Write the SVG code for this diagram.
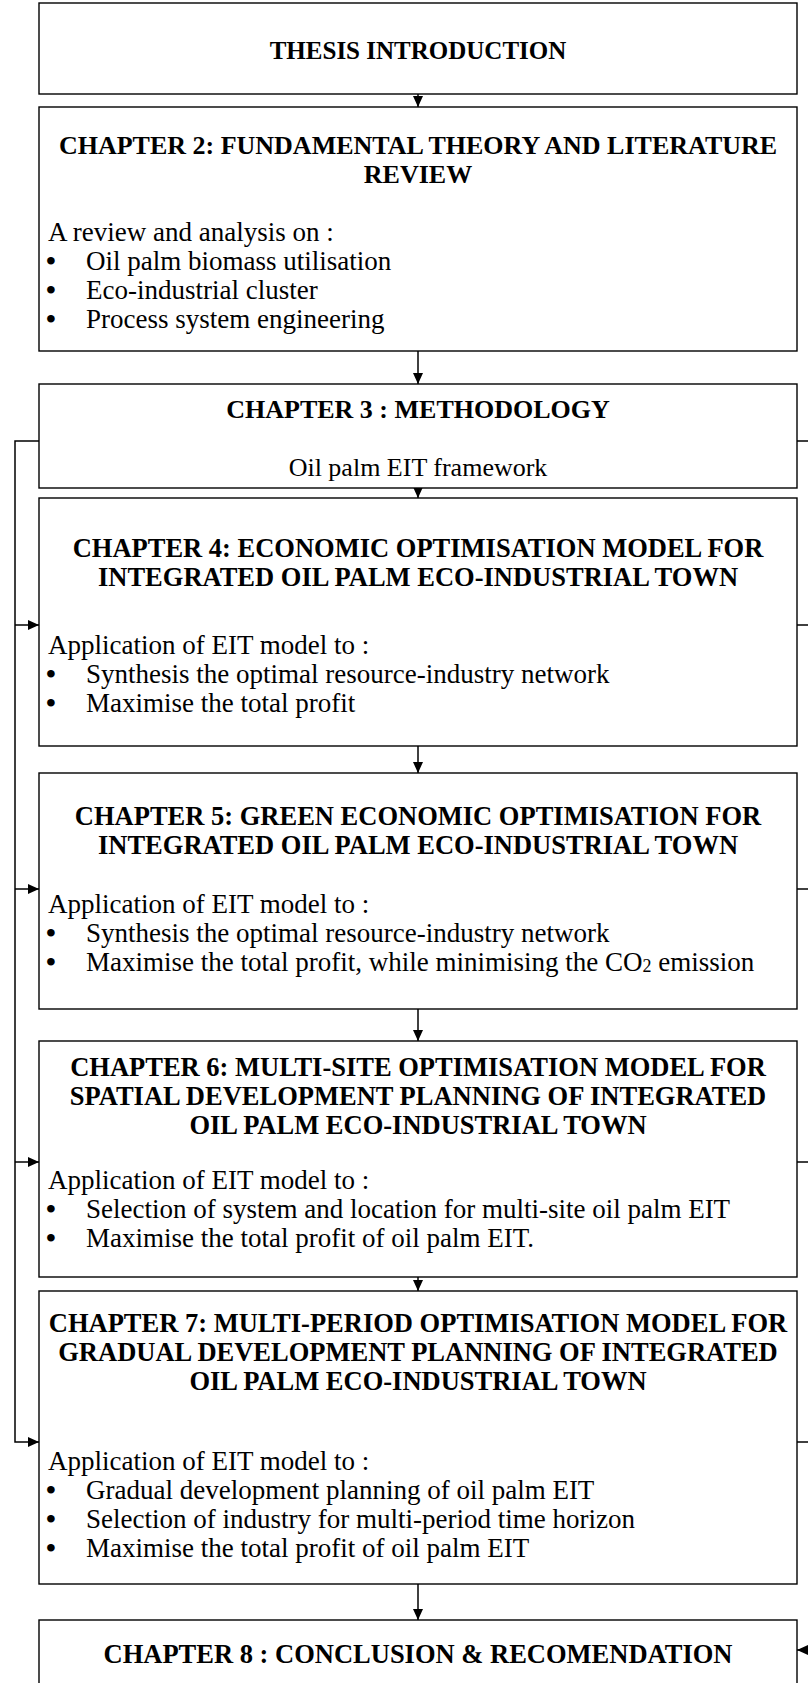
<svg xmlns="http://www.w3.org/2000/svg" width="808" height="1683" viewBox="0 0 808 1683">
<style>
.box{fill:#ffffff;stroke:#000000;stroke-width:1.4}
.t{font-family:"Liberation Serif","Times New Roman",serif;font-size:26.5px;font-weight:bold;fill:#000;text-anchor:middle}
.b{font-family:"Liberation Serif","Times New Roman",serif;font-size:27px;fill:#000}
.d{font-family:"Liberation Serif","Times New Roman",serif;font-size:28px;font-weight:bold;fill:#000}
.c{font-family:"Liberation Serif","Times New Roman",serif;font-size:26px;fill:#000;text-anchor:middle}
.ln{fill:none;stroke:#000;stroke-width:1.5}
</style>
<defs>
<marker id="ah" markerWidth="11" markerHeight="10" refX="11" refY="5" orient="auto" markerUnits="userSpaceOnUse">
<path d="M0,0 L11,5 L0,10 z" fill="#000"/>
</marker>
</defs>
<rect width="808" height="1683" fill="#ffffff"/>
<g id="connectors">
<path class="ln" d="M418,94 V107" marker-end="url(#ah)"/>
<path class="ln" d="M418,351 V384" marker-end="url(#ah)"/>
<path class="ln" d="M418,488 V498" marker-end="url(#ah)"/>
<path class="ln" d="M418,746 V773" marker-end="url(#ah)"/>
<path class="ln" d="M418,1009 V1041" marker-end="url(#ah)"/>
<path class="ln" d="M418,1277 V1291" marker-end="url(#ah)"/>
<path class="ln" d="M418,1584 V1620" marker-end="url(#ah)"/>
<path class="ln" d="M39,441 H15 V1442 H39" marker-end="url(#ah)"/>
<path class="ln" d="M15,625 H39" marker-end="url(#ah)"/>
<path class="ln" d="M15,889 H39" marker-end="url(#ah)"/>
<path class="ln" d="M15,1162 H39" marker-end="url(#ah)"/>
<path class="ln" d="M797,441 H812 V1650 H797" marker-end="url(#ah)"/>
<path class="ln" d="M797,625 H812"/>
<path class="ln" d="M797,889 H812"/>
<path class="ln" d="M797,1162 H812"/>
<path class="ln" d="M797,1442 H812"/>
</g>
<g id="n1">
<rect class="box" x="39" y="3" width="758" height="91"/>
<text class="t" x="418" y="59" style="font-size:25px">THESIS INTRODUCTION</text>
</g>
<g id="n2">
<rect class="box" x="39" y="107" width="758" height="244"/>
<text class="t" x="418" y="154" style="font-size:26px">CHAPTER 2: FUNDAMENTAL THEORY AND LITERATURE</text>
<text class="t" x="418" y="183" style="font-size:26px">REVIEW</text>
<text class="b" x="48" y="241">A review and analysis on :</text>
<text class="d" x="46" y="270">•</text><text class="b" x="86" y="270">Oil palm biomass utilisation</text>
<text class="d" x="46" y="299">•</text><text class="b" x="86" y="299">Eco-industrial cluster</text>
<text class="d" x="46" y="328">•</text><text class="b" x="86" y="328">Process system engineering</text>
</g>
<g id="n3">
<rect class="box" x="39" y="384" width="758" height="104"/>
<text class="t" x="418" y="418" style="font-size:26px">CHAPTER 3 : METHODOLOGY</text>
<text class="c" x="418" y="476">Oil palm EIT framework</text>
</g>
<g id="n4">
<rect class="box" x="39" y="498" width="758" height="248"/>
<text class="t" x="418" y="557">CHAPTER 4: ECONOMIC OPTIMISATION MODEL FOR</text>
<text class="t" x="418" y="586">INTEGRATED OIL PALM ECO-INDUSTRIAL TOWN</text>
<text class="b" x="48" y="654">Application of EIT model to :</text>
<text class="d" x="46" y="683">•</text><text class="b" x="86" y="683">Synthesis the optimal resource-industry network</text>
<text class="d" x="46" y="712">•</text><text class="b" x="86" y="712">Maximise the total profit</text>
</g>
<g id="n5">
<rect class="box" x="39" y="773" width="758" height="236"/>
<text class="t" x="418" y="825">CHAPTER 5: GREEN ECONOMIC OPTIMISATION FOR</text>
<text class="t" x="418" y="854">INTEGRATED OIL PALM ECO-INDUSTRIAL TOWN</text>
<text class="b" x="48" y="913">Application of EIT model to :</text>
<text class="d" x="46" y="942">•</text><text class="b" x="86" y="942">Synthesis the optimal resource-industry network</text>
<text class="d" x="46" y="971">•</text><text class="b" x="86" y="971">Maximise the total profit, while minimising the CO<tspan font-size="18" dy="1">2</tspan><tspan dy="-1"> emission</tspan></text>
</g>
<g id="n6">
<rect class="box" x="39" y="1041" width="758" height="236"/>
<text class="t" x="418" y="1076">CHAPTER 6: MULTI-SITE OPTIMISATION MODEL FOR</text>
<text class="t" x="418" y="1105">SPATIAL DEVELOPMENT PLANNING OF INTEGRATED</text>
<text class="t" x="418" y="1134">OIL PALM ECO-INDUSTRIAL TOWN</text>
<text class="b" x="48" y="1189">Application of EIT model to :</text>
<text class="d" x="46" y="1218">•</text><text class="b" x="86" y="1218">Selection of system and location for multi-site oil palm EIT</text>
<text class="d" x="46" y="1247">•</text><text class="b" x="86" y="1247">Maximise the total profit of oil palm EIT.</text>
</g>
<g id="n7">
<rect class="box" x="39" y="1291" width="758" height="293"/>
<text class="t" x="418" y="1332">CHAPTER 7: MULTI-PERIOD OPTIMISATION MODEL FOR</text>
<text class="t" x="418" y="1361">GRADUAL DEVELOPMENT PLANNING OF INTEGRATED</text>
<text class="t" x="418" y="1390">OIL PALM ECO-INDUSTRIAL TOWN</text>
<text class="b" x="48" y="1470">Application of EIT model to :</text>
<text class="d" x="46" y="1499">•</text><text class="b" x="86" y="1499">Gradual development planning of oil palm EIT</text>
<text class="d" x="46" y="1528">•</text><text class="b" x="86" y="1528">Selection of industry for multi-period time horizon</text>
<text class="d" x="46" y="1557">•</text><text class="b" x="86" y="1557">Maximise the total profit of oil palm EIT</text>
</g>
<g id="n8">
<rect class="box" x="39" y="1620" width="758" height="90"/>
<text class="t" x="418" y="1663">CHAPTER 8 : CONCLUSION &amp; RECOMENDATION</text>
</g>
</svg>
